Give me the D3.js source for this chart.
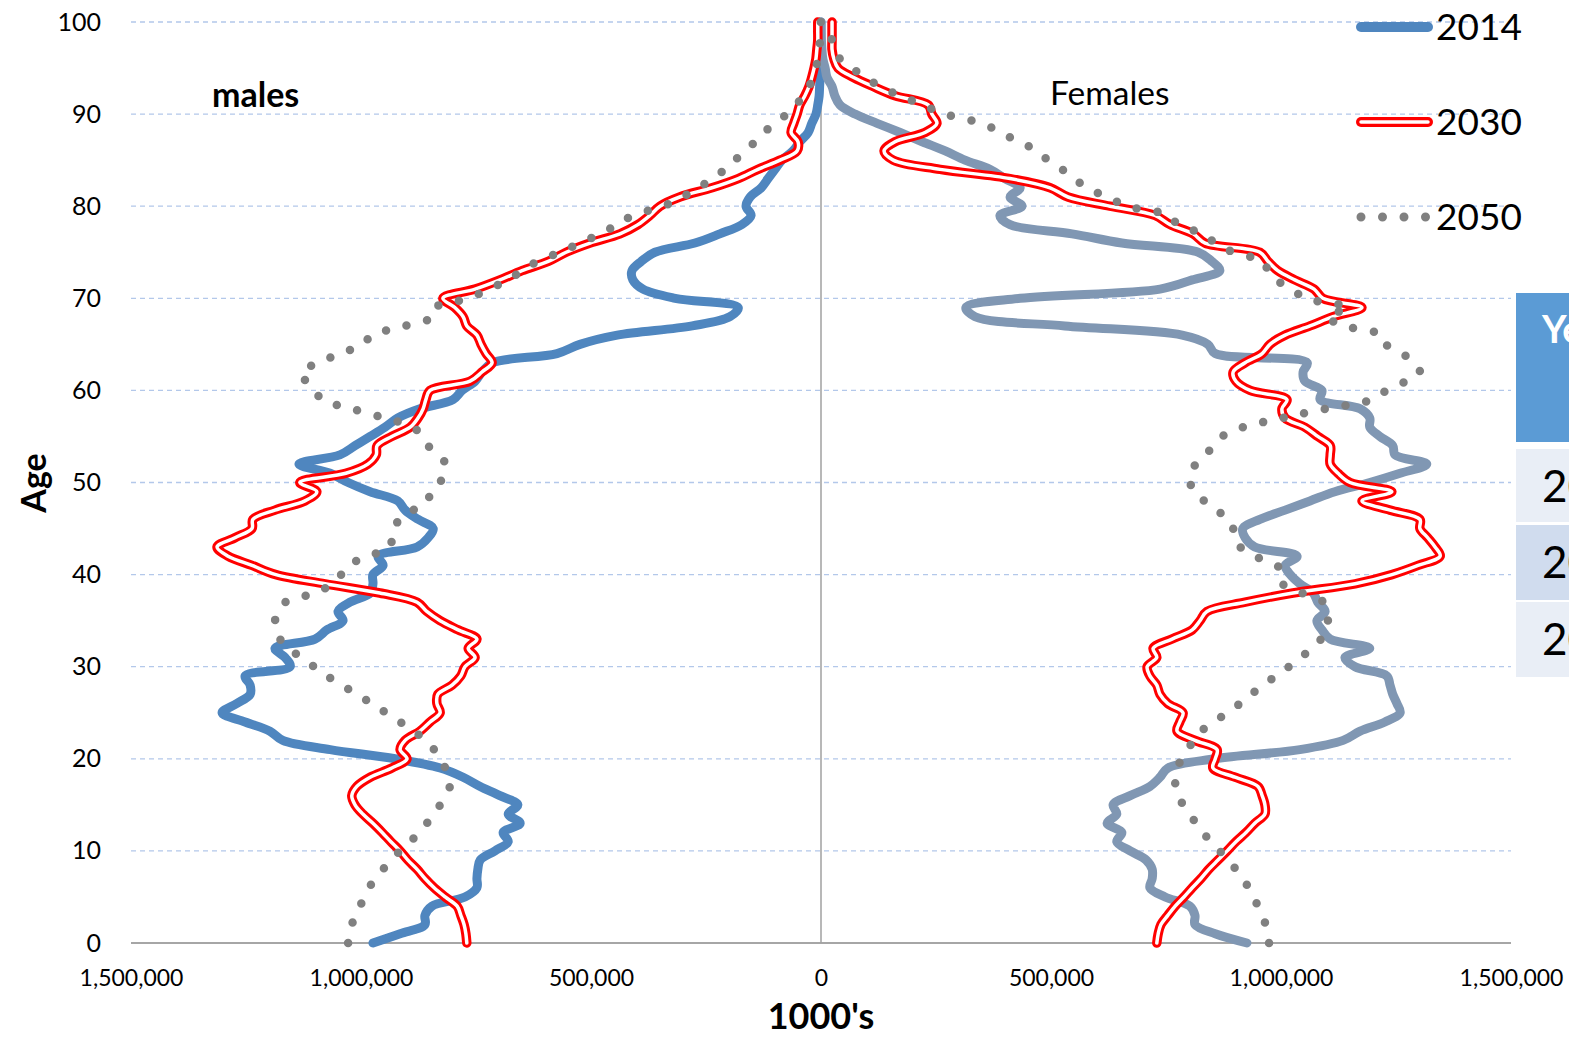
<!DOCTYPE html>
<html>
<head>
<meta charset="utf-8">
<script src="https://cdn.jsdelivr.net/npm/d3@7"></script>
<style>
  html, body { margin: 0; padding: 0; background: #fff; }
  svg { display: block; font-family: Lato, "Open Sans", "Liberation Sans", sans-serif; }
</style>
</head>
<body>
<svg id="chart" width="1569" height="1037"></svg>
<script>
// Single-year ages 0..100
const ages = d3.range(0, 101);

// Population by single year of age (1000's)
const male2014 = [974000, 915000, 861000, 861000, 846000, 774000, 748000, 748000, 746000, 741000,
  709000, 680000, 691000, 654000, 680000, 659000, 698000, 741000, 778000, 828000,
  926000, 1067000, 1170000, 1198000, 1252000, 1302000, 1270000, 1241000, 1241000, 1252000,
  1154000, 1165000, 1187000, 1100000, 1074000, 1039000, 1050000, 1024000, 980000, 974000,
  974000, 952000, 963000, 878000, 854000, 843000, 876000, 904000, 920000, 980000,
  1028000, 1067000, 1135000, 1046000, 1013000, 980000, 948000, 920000, 872000, 800000,
  780000, 752000, 737000, 714000, 574000, 524000, 443000, 280000, 198000, 180000,
  317000, 387000, 409000, 411000, 391000, 361000, 274000, 220000, 172000, 152000,
  163000, 154000, 130000, 115000, 100000, 85000, 61000, 46000, 28000, 20000,
  11000, 7000, 4000, 3000, 2000, 2000, 1000, 1000, 1000, 500, 300];

const female2014 = [926000, 857000, 813000, 813000, 802000, 748000, 715000, 720000, 720000, 707000,
  672000, 643000, 654000, 622000, 643000, 635000, 672000, 715000, 737000, 754000,
  857000, 1041000, 1135000, 1172000, 1226000, 1259000, 1252000, 1243000, 1237000, 1230000,
  1161000, 1139000, 1193000, 1107000, 1089000, 1078000, 1096000, 1080000, 1070000, 1041000,
  1020000, 1009000, 1035000, 943000, 922000, 917000, 954000, 1009000, 1063000, 1117000,
  1193000, 1259000, 1317000, 1248000, 1243000, 1215000, 1193000, 1193000, 1172000, 1085000,
  1089000, 1052000, 1048000, 1057000, 857000, 841000, 785000, 530000, 335000, 315000,
  433000, 737000, 807000, 867000, 850000, 820000, 654000, 546000, 411000, 389000,
  437000, 411000, 433000, 400000, 367000, 313000, 270000, 220000, 172000, 122000,
  74000, 41000, 30000, 24000, 13000, 9000, 4000, 2000, 1000, 500, 300];

const male2030 = [770000, 772000, 776000, 783000, 791000, 817000, 841000, 861000, 878000, 898000,
  915000, 935000, 954000, 974000, 996000, 1013000, 1020000, 1009000, 980000, 933000,
  900000, 915000, 904000, 872000, 850000, 828000, 835000, 833000, 802000, 783000,
  774000, 752000, 767000, 748000, 789000, 828000, 857000, 878000, 959000, 1078000,
  1185000, 1237000, 1289000, 1313000, 1274000, 1237000, 1235000, 1187000, 1122000, 1096000,
  1133000, 1033000, 985000, 967000, 965000, 933000, 893000, 876000, 865000, 859000,
  850000, 763000, 737000, 715000, 728000, 739000, 748000, 770000, 778000, 796000,
  822000, 752000, 698000, 650000, 593000, 554000, 502000, 437000, 398000, 372000,
  350000, 307000, 237000, 180000, 137000, 89000, 52000, 50000, 65000, 59000,
  52000, 46000, 35000, 26000, 20000, 15000, 11000, 9000, 7000, 7000, 7000];

const female2030 = [730000, 733000, 739000, 754000, 770000, 789000, 807000, 826000, 843000, 863000,
  883000, 902000, 924000, 943000, 965000, 965000, 959000, 950000, 900000, 852000,
  857000, 861000, 813000, 774000, 780000, 787000, 754000, 737000, 730000, 715000,
  709000, 730000, 722000, 763000, 807000, 824000, 839000, 922000, 1026000, 1161000,
  1241000, 1298000, 1346000, 1335000, 1319000, 1302000, 1302000, 1237000, 1176000, 1241000,
  1150000, 1124000, 1107000, 1107000, 1107000, 1080000, 1052000, 1009000, 1002000, 1013000,
  933000, 902000, 896000, 922000, 959000, 976000, 1009000, 1063000, 1113000, 1176000,
  1091000, 1072000, 1030000, 993000, 972000, 954000, 835000, 809000, 759000, 726000,
  628000, 537000, 498000, 411000, 259000, 157000, 137000, 161000, 226000, 252000,
  241000, 233000, 161000, 113000, 70000, 37000, 28000, 24000, 24000, 24000, 24000];

const male2050 = [1028000, 1024000, 1020000, 1011000, 1002000, 993000, 983000, 967000, 952000, 935000,
  915000, 893000, 874000, 857000, 841000, 828000, 815000, 807000, 811000, 817000,
  828000, 841000, 861000, 885000, 915000, 946000, 976000, 1009000, 1041000, 1074000,
  1102000, 1130000, 1157000, 1176000, 1185000, 1187000, 1178000, 1165000, 1100000, 1063000,
  1043000, 1028000, 985000, 937000, 933000, 930000, 915000, 887000, 854000, 850000,
  828000, 822000, 815000, 837000, 854000, 867000, 887000, 948000, 1020000, 1085000,
  1100000, 1120000, 1130000, 1093000, 1046000, 996000, 976000, 904000, 843000, 839000,
  767000, 722000, 680000, 650000, 617000, 567000, 524000, 480000, 443000, 409000,
  343000, 302000, 263000, 241000, 207000, 187000, 165000, 143000, 124000, 100000,
  74000, 54000, 39000, 26000, 17000, 11000, 7000, 4000, 2000, 1000, 500];

const female2050 = [974000, 972000, 967000, 957000, 950000, 939000, 930000, 915000, 902000, 883000,
  867000, 848000, 830000, 817000, 798000, 787000, 776000, 770000, 772000, 776000,
  783000, 798000, 809000, 826000, 854000, 883000, 911000, 935000, 961000, 989000,
  1017000, 1043000, 1067000, 1087000, 1098000, 1102000, 1100000, 1093000, 1046000, 1004000,
  1007000, 991000, 943000, 911000, 898000, 896000, 887000, 859000, 833000, 809000,
  804000, 815000, 813000, 835000, 854000, 872000, 917000, 1004000, 1096000, 1198000,
  1230000, 1272000, 1302000, 1285000, 1265000, 1228000, 1220000, 1139000, 1100000, 1146000,
  1052000, 1024000, 989000, 972000, 961000, 896000, 857000, 830000, 776000, 757000,
  665000, 624000, 576000, 552000, 524000, 493000, 472000, 428000, 393000, 348000,
  270000, 220000, 172000, 128000, 96000, 67000, 41000, 33000, 24000, 20000, 15000];

const years = ["2014", "2030", "2050"];
const xTickValues = [-1500000, -1000000, -500000, 0, 500000, 1000000, 1500000];
const yTickValues = [0, 10, 20, 30, 40, 50, 60, 70, 80, 90, 100];
const tableHeader = "Year";
const tableRows = ["2014", "2030", "2050"];

const svg = d3.select("#chart");

// Males run to the left of zero, females to the right
const x = d3.scaleLinear().domain([-1500000, 1500000]).range([131, 1511]);
const y = d3.scaleLinear().domain([0, 100]).range([943, 22]);

// Horizontal dashed gridlines
svg.append("g")
  .selectAll("line")
  .data(yTickValues.filter(d => d > 0))
  .join("line")
  .attr("x1", x(-1500000)).attr("x2", x(1500000))
  .attr("y1", d => y(d)).attr("y2", d => y(d))
  .attr("stroke", "#B3C8EA").attr("stroke-width", 1.3)
  .attr("stroke-dasharray", "5,4");

// Axes
const fmt = d3.format(",");
const xAxis = svg.append("g")
  .attr("transform", `translate(0,${y(0)})`)
  .call(d3.axisBottom(x).tickValues(xTickValues).tickSize(0).tickPadding(27)
    .tickFormat(d => fmt(Math.abs(d))));
xAxis.select(".domain").remove();
xAxis.selectAll("text").attr("font-size", 23).attr("fill", "#000")
  .attr("font-family", "Lato, 'Open Sans', sans-serif");

const yAxis = svg.append("g")
  .attr("transform", `translate(${x(-1500000)},0)`)
  .call(d3.axisLeft(y).tickValues(yTickValues).tickSize(0).tickPadding(30));
yAxis.select(".domain").remove();
yAxis.selectAll("text").attr("font-size", 25).attr("fill", "#000")
  .attr("font-family", "Lato, 'Open Sans', sans-serif");

// Baseline and centre axis
svg.append("line")
  .attr("x1", x(-1500000)).attr("x2", x(1500000))
  .attr("y1", y(0)).attr("y2", y(0))
  .attr("stroke", "#A6A6A6").attr("stroke-width", 2);
svg.append("line")
  .attr("x1", x(0)).attr("x2", x(0))
  .attr("y1", y(100)).attr("y2", y(0))
  .attr("stroke", "#A0A0A0").attr("stroke-width", 1.5);

// Line generators
const lineFor = sign => d3.line()
  .x(d => x(sign * d.v))
  .y(d => y(d.age))
  .curve(d3.curveCatmullRom.alpha(0.5));
const pts = arr => ages.map((a, i) => ({ age: a, v: arr[i] }));

const plot = svg.append("g").attr("fill", "none")
  .attr("stroke-linecap", "round").attr("stroke-linejoin", "round");

// 2014
plot.append("path").attr("d", lineFor(-1)(pts(male2014)))
  .attr("stroke", "#4F86BF").attr("stroke-width", 9);
plot.append("path").attr("d", lineFor(1)(pts(female2014)))
  .attr("stroke", "#8097B3").attr("stroke-width", 9);

// 2030: red line with a white core
[[-1, male2030], [1, female2030]].forEach(([s, arr]) => {
  const d = lineFor(s)(pts(arr));
  plot.append("path").attr("d", d).attr("stroke", "#FF0000").attr("stroke-width", 9.5);
  plot.append("path").attr("d", d).attr("stroke", "#FFFFFF").attr("stroke-width", 3.5);
});

// 2050: round dots
[[-1, male2050], [1, female2050]].forEach(([s, arr]) => {
  plot.append("path").attr("d", lineFor(s)(pts(arr)))
    .attr("stroke", "#808080").attr("stroke-width", 8.5)
    .attr("stroke-dasharray", "0,21");
});

// Side labels
svg.append("text").attr("x", 212).attr("y", 107)
  .attr("font-size", 34).attr("font-weight", "bold").text("males");
svg.append("text").attr("x", 1050).attr("y", 105)
  .attr("font-size", 33.5).text("Females");

// Axis titles
svg.append("text").attr("transform", "translate(46,483) rotate(-90)")
  .attr("text-anchor", "middle").attr("font-size", 34).attr("font-weight", "bold").text("Age");
svg.append("text").attr("x", x(0)).attr("y", 1029)
  .attr("text-anchor", "middle").attr("font-size", 36).attr("font-weight", "bold").text("1000's");

// Legend
const legend = svg.append("g");
const legY = [27, 122, 217];
legend.append("line").attr("x1", 1361).attr("x2", 1428).attr("y1", legY[0]).attr("y2", legY[0])
  .attr("stroke", "#4F86BF").attr("stroke-width", 10).attr("stroke-linecap", "round");
legend.append("line").attr("x1", 1361).attr("x2", 1428).attr("y1", legY[1]).attr("y2", legY[1])
  .attr("stroke", "#FF0000").attr("stroke-width", 10).attr("stroke-linecap", "round");
legend.append("line").attr("x1", 1361).attr("x2", 1428).attr("y1", legY[1]).attr("y2", legY[1])
  .attr("stroke", "#FFFFFF").attr("stroke-width", 3.5).attr("stroke-linecap", "round");
legend.append("line").attr("x1", 1361).attr("x2", 1426).attr("y1", legY[2]).attr("y2", legY[2])
  .attr("stroke", "#808080").attr("stroke-width", 9).attr("stroke-linecap", "round")
  .attr("stroke-dasharray", "0,21.5");
legend.selectAll("text").data(years).join("text")
  .attr("x", 1436).attr("y", (d, i) => legY[i] + 13)
  .attr("font-size", 37).attr("fill", "#000").text(d => d);

// Table at right edge
const table = svg.append("g");
table.append("rect").attr("x", 1516).attr("y", 293).attr("width", 200).attr("height", 149)
  .attr("fill", "#5B9BD5");
table.append("text").attr("x", 1542).attr("y", 343).attr("font-size", 38)
  .attr("font-weight", "bold").attr("fill", "#fff").text(tableHeader);
const rowY = [449, 525, 602];
const rowH = [73, 75, 75];
const rowFill = ["#E9EEF6", "#D0DCEE", "#E9EEF6"];
tableRows.forEach((r, i) => {
  table.append("rect").attr("x", 1516).attr("y", rowY[i]).attr("width", 200).attr("height", rowH[i])
    .attr("fill", rowFill[i]);
  table.append("text").attr("x", 1542).attr("y", rowY[i] + 53).attr("font-size", 44)
    .attr("fill", "#000").text(r);
});
</script>
</body>
</html>
